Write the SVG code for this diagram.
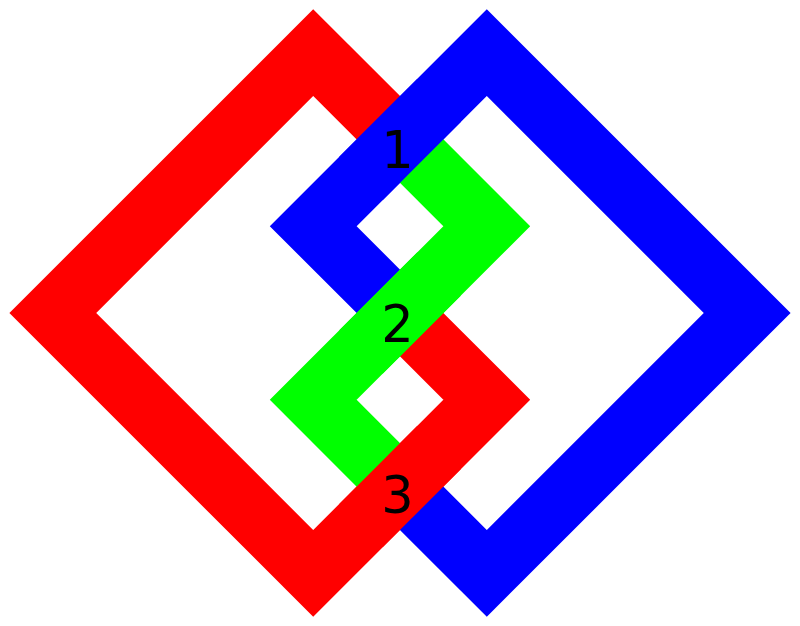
<svg xmlns="http://www.w3.org/2000/svg" width="800" height="626" viewBox="0 0 800 626">
<style>
.band{fill:none;stroke-width:2;stroke-linejoin:miter;stroke-linecap:butt;stroke-miterlimit:10}
.r{stroke:#ff0000}.b{stroke:#0000ff}.g{stroke:#00ff00}
.lbl{font-family:"DejaVu Sans",sans-serif;font-size:51px;fill:#000;text-anchor:middle}
</style>
<rect width="800" height="626" fill="#ffffff"/>
<g id="knot" transform="matrix(21.7,21.7,21.7,-21.7,400,313)">
  <polyline id="red" class="band r" points="-4.5,4 -8,4 -8,-8 4,-8 4,0 0.5,0"/>
  <polyline id="blue" class="band b" points="-0.5,0 -4,0 -4,8 8,8 8,-4 4.5,-4"/>
  <polyline id="green" class="band g" points="3.5,-4 0,-4 0,4 -3.5,4"/>
  <line id="x1" class="band b" x1="-4" y1="2.2" x2="-4" y2="5.8"/>
  <line id="x2" class="band g" x1="0" y1="-1.8" x2="0" y2="1.8"/>
  <line id="x3" class="band r" x1="4" y1="-5.8" x2="4" y2="-2.2"/>
</g>
<g id="labels">
  <text class="lbl" x="397.5" y="168">1</text>
  <text class="lbl" x="397.5" y="342">2</text>
  <text class="lbl" x="397.5" y="513">3</text>
</g>
</svg>
